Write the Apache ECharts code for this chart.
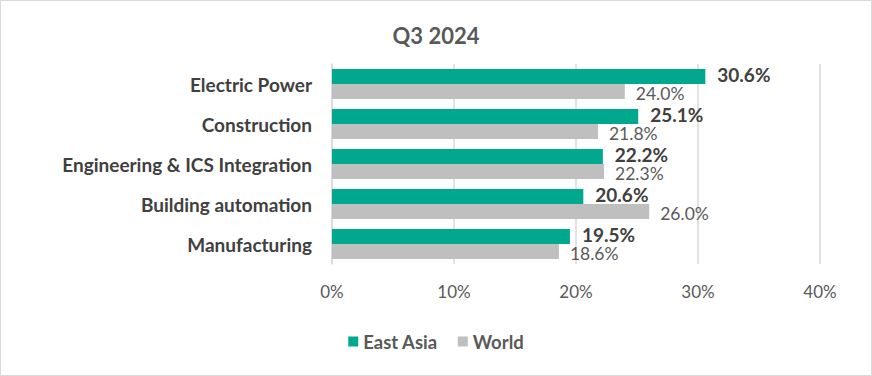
<!DOCTYPE html>
<html>
<head>
<meta charset="utf-8">
<script src="https://cdn.jsdelivr.net/npm/echarts@6/dist/echarts.min.js"></script>
<style>
  html, body { margin: 0; padding: 0; background: #fff; }
  #chart { width: 872px; height: 376px; box-sizing: border-box; border: 1px solid #d9d9d9; }
</style>
</head>
<body>
<div id="chart"></div>
<script>
// Q3 2024 — East Asia vs World, by sector
var categories = ['Electric Power', 'Construction', 'Engineering & ICS Integration', 'Building automation', 'Manufacturing'];
var eastAsia = [30.6, 25.1, 22.2, 20.6, 19.5];
var world = [24.0, 21.8, 22.3, 26.0, 18.6];
var ticks = [0, 10, 20, 30, 40];

(function() {
  var ink = '#404040';
  var muted = '#595959';
  var rule = '#d9d9d9';
  var font = 'Lato, "Open Sans", sans-serif';

  var chart = echarts.init(document.getElementById('chart'), null, { renderer: 'svg' });
  chart.setOption({
    animation: false,
    textStyle: { fontFamily: font },
    title: {
      text: 'Q3 2024',
      left: 'center',
      top: 18,
      textStyle: { color: muted, fontSize: 22, fontWeight: 'bold', fontFamily: font }
    },
    legend: {
      bottom: 19,
      left: 'center',
      itemWidth: 10, itemHeight: 10, itemGap: 20,
      icon: 'rect',
      textStyle: { color: muted, fontSize: 18.5, fontWeight: 'bold', fontFamily: font },
      data: ['East Asia', 'World']
    },
    grid: { left: 331, right: 51, top: 63, height: 200, containLabel: false },
    xAxis: {
      type: 'value',
      min: ticks[0],
      max: ticks[ticks.length - 1],
      interval: 10,
      axisLabel: { color: muted, fontSize: 17, margin: 19, formatter: '{value}%', fontFamily: font },
      axisLine: { show: false },
      axisTick: { show: false },
      splitLine: { lineStyle: { color: rule, width: 1.5 } }
    },
    yAxis: {
      type: 'category',
      inverse: true,
      data: categories,
      axisLabel: { color: ink, fontSize: 19, fontWeight: 'bold', margin: 20, fontFamily: font },
      axisLine: { lineStyle: { color: rule, width: 1.5 } },
      axisTick: { show: false }
    },
    series: [
      {
        name: 'East Asia',
        type: 'bar',
        data: eastAsia,
        barGap: '0%',
        barCategoryGap: '25%',
        itemStyle: { color: '#00a88d' },
        label: {
          show: true, position: 'right', distance: 12, offset: [0, -2],
          color: ink, fontSize: 19, fontWeight: 'bold', fontFamily: font, lineHeight: 15,
          formatter: function(p) { return p.value.toFixed(1) + '%'; }
        }
      },
      {
        name: 'World',
        type: 'bar',
        data: world,
        itemStyle: { color: '#bfbfbf' },
        label: {
          show: true, position: 'right', distance: 11, offset: [0, 2],
          color: muted, fontSize: 17.5, fontFamily: font, lineHeight: 14,
          formatter: function(p) { return p.value.toFixed(1) + '%'; }
        }
      }
    ]
  });
  window.addEventListener('resize', function() { chart.resize(); });
})();
</script>
</body>
</html>
